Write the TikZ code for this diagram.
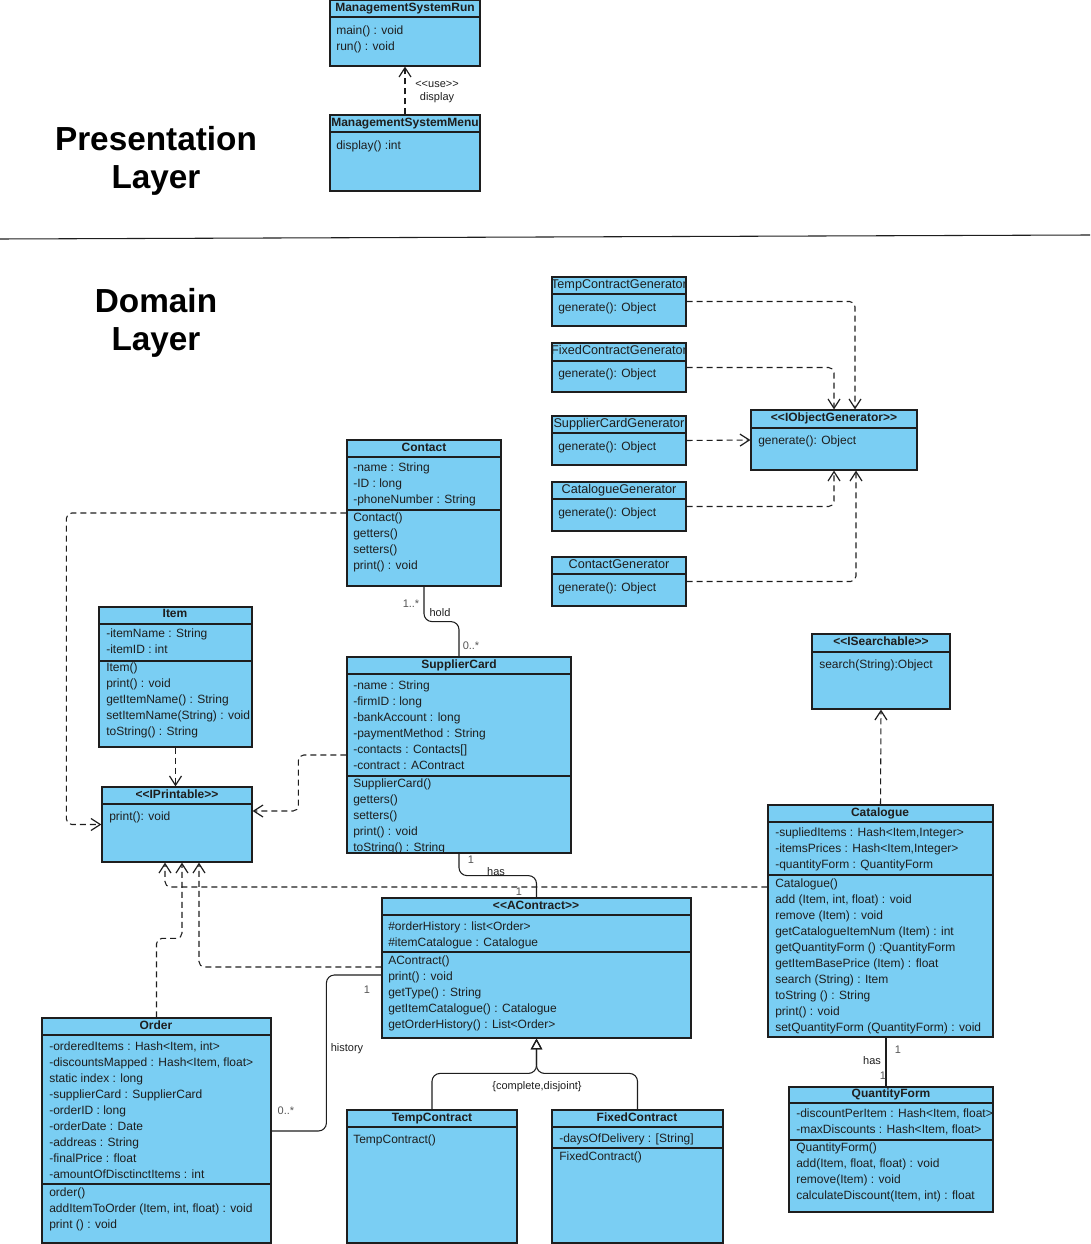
\documentclass[tikz,border=0pt]{standalone}
\usepackage{fontspec}
\setmainfont{Liberation Sans}[Ligatures=TeXOff]
\usetikzlibrary{arrows.meta,fit}

\definecolor{umlblue}{RGB}{122,206,243}
\definecolor{inkgrey}{RGB}{30,30,30}
\definecolor{multgrey}{RGB}{85,85,85}

\tikzset{
  umlbox/.style={draw=inkgrey, fill=umlblue, line width=0.9pt, inner sep=0pt},
  umltitle/.style={font=\fontsize{9}{11}\selectfont\bfseries, text=inkgrey, inner sep=0pt, text height=6.5pt, text depth=1.5pt},
  gentitle/.style={font=\fontsize{9.5}{11}\selectfont, text=inkgrey, inner sep=0pt, text height=6.8pt, text depth=1.6pt},
  umlrow/.style={anchor=west, font=\fontsize{9}{11}\selectfont, text=inkgrey, inner sep=0pt, text height=6.5pt, text depth=1.8pt},
  divider/.style={draw=inkgrey, line width=0.9pt},
  depend/.style={draw=inkgrey, line width=0.8pt, dash pattern=on 4.5pt off 3pt, rounded corners=4pt, -{Straight Barb[length=7pt,width=9pt,line width=0.9pt]}},
  assoc/.style={draw=inkgrey, line width=0.8pt, rounded corners=6pt},
  inherit/.style={draw=inkgrey, line width=0.8pt, rounded corners=6pt, -{Triangle[open,length=8pt,width=8.5pt,line width=0.9pt]}},
  conlabel/.style={font=\fontsize{8.25}{10}\selectfont, text=inkgrey, inner sep=0pt},
  multlabel/.style={conlabel, text=multgrey},
  layertitle/.style={font=\fontsize{25}{28.5}\selectfont\bfseries, align=center, text=black, inner sep=0pt}
}

\begin{document}
\begin{tikzpicture}[x=0.75pt, y=-0.75pt]
  \useasboundingbox (0,0) rectangle (1090,1244);

  % Layer titles and separator
  \node[layertitle] (presentation) at (156,161) {Presentation\\Layer};
  \node[layertitle] (domain) at (156,323) {Domain\\Layer};
  \draw[line width=0.8pt, inkgrey] (0,239) -- (1090,235);

  % ManagementSystemRun
  \node[umlbox, fit={(330,0) (480,66)}] (run) {};
  \draw[divider] (330,17) -- (480,17);
  \node[umltitle] (run-t) at (405,8) {ManagementSystemRun};
  \foreach \txt [count=\i from 0] in {main() : void, run() : void}
    \node[umlrow] (run-m\i) at (336,31+16*\i) {\txt};

  % ManagementSystemMenu
  \node[umlbox, fit={(330,115) (480,191)}] (menu) {};
  \draw[divider] (330,132) -- (480,132);
  \node[umltitle] (menu-t) at (405,123) {ManagementSystemMenu};
  \node[umlrow] (menu-m0) at (336,146) {display() :int};

  \draw[depend] (menu.north) -- (run.south);
  \node[conlabel] (use-l) at (437,84) {<<use>>};
  \node[conlabel] (display-l) at (437,98) {display};

  % Generators
  \node[umlbox, fit={(552,277) (686,326)}] (tempgen) {};
  \draw[divider] (552,294) -- (686,294);
  \node[gentitle] (tempgen-t) at (619,285) {TempContractGenerator};
  \node[umlrow] (tempgen-m0) at (558,308) {generate(): Object};

  \node[umlbox, fit={(552,343) (686,392)}] (fixedgen) {};
  \draw[divider] (552,361) -- (686,361);
  \node[gentitle] (fixedgen-t) at (619,351) {FixedContractGenerator};
  \node[umlrow] (fixedgen-m0) at (558,374) {generate(): Object};

  \node[umlbox, fit={(552,416) (686,465)}] (suppgen) {};
  \draw[divider] (552,433) -- (686,433);
  \node[gentitle] (suppgen-t) at (619,424) {SupplierCardGenerator};
  \node[umlrow] (suppgen-m0) at (558,447) {generate(): Object};

  \node[umlbox, fit={(552,482) (686,531)}] (catgen) {};
  \draw[divider] (552,499) -- (686,499);
  \node[gentitle] (catgen-t) at (619,490) {CatalogueGenerator};
  \node[umlrow] (catgen-m0) at (558,513) {generate(): Object};

  \node[umlbox, fit={(552,557) (686,606)}] (contgen) {};
  \draw[divider] (552,574) -- (686,574);
  \node[gentitle] (contgen-t) at (619,565) {ContactGenerator};
  \node[umlrow] (contgen-m0) at (558,588) {generate(): Object};

  % IObjectGenerator
  \node[umlbox, fit={(751,410) (917,470)}] (iobjgen) {};
  \draw[divider] (751,428) -- (917,428);
  \node[umltitle] (iobjgen-t) at (834,418) {<<IObjectGenerator>>};
  \node[umlrow] (iobjgen-m0) at (758,441) {generate(): Object};

  \draw[depend] (tempgen.east) -| ([xshift=15.75pt]iobjgen.north);
  \draw[depend] (fixedgen.east) -| (iobjgen.north);
  \draw[depend] (suppgen.east) -- (iobjgen.west);
  \draw[depend] (catgen.east) -| (iobjgen.south);
  \draw[depend] (contgen.east) -| ([xshift=16.5pt]iobjgen.south);

  % Contact
  \node[umlbox, fit={(347,440) (501,586)}] (contact) {};
  \draw[divider] (347,457) -- (501,457);
  \draw[divider] (347,510) -- (501,510);
  \node[umltitle] (contact-t) at (424,448) {Contact};
  \foreach \txt [count=\i from 0] in {-name : String, -ID : long, -phoneNumber : String}
    \node[umlrow] (contact-a\i) at (353,468+16*\i) {\txt};
  \foreach \txt [count=\i from 0] in {Contact(), getters(), setters(), print() : void}
    \node[umlrow] (contact-m\i) at (353,518+16*\i) {\txt};

  % Item
  \node[umlbox, fit={(99,607) (252,747)}] (item) {};
  \draw[divider] (99,624) -- (252,624);
  \draw[divider] (99,661) -- (252,661);
  \node[umltitle] (item-t) at (175,614) {Item};
  \foreach \txt [count=\i from 0] in {-itemName : String, -itemID : int}
    \node[umlrow] (item-a\i) at (106,634+16*\i) {\txt};
  \foreach \txt [count=\i from 0] in {Item(), print() : void, getItemName() : String, setItemName(String) : void, toString() : String}
    \node[umlrow] (item-m\i) at (106,668+16*\i) {\txt};

  % IPrintable
  \node[umlbox, fit={(102,787) (252,862)}] (iprintable) {};
  \draw[divider] (102,804) -- (252,804);
  \node[umltitle] (iprintable-t) at (177,795) {<<IPrintable>>};
  \node[umlrow] (iprintable-m0) at (109,817) {print(): void};

  % SupplierCard
  \node[umlbox, fit={(347,657) (571,853)}] (supplier) {};
  \draw[divider] (347,674) -- (571,674);
  \draw[divider] (347,776) -- (571,776);
  \node[umltitle] (supplier-t) at (459,665) {SupplierCard};
  \foreach \txt [count=\i from 0] in {-name : String, -firmID : long, -bankAccount : long, -paymentMethod : String, -contacts : Contacts[], -contract : AContract}
    \node[umlrow] (supplier-a\i) at (353,686+16*\i) {\txt};
  \foreach \txt [count=\i from 0] in {SupplierCard(), getters(), setters(), print() : void, toString() : String}
    \node[umlrow] (supplier-m\i) at (353,784+16*\i) {\txt};

  % AContract
  \node[umlbox, fit={(382,898) (691,1038)}] (acontract) {};
  \draw[divider] (382,915) -- (691,915);
  \draw[divider] (382,952) -- (691,952);
  \node[umltitle] (acontract-t) at (536,906) {<<AContract>>};
  \foreach \txt [count=\i from 0] in {\#orderHistory : list<Order>, \#itemCatalogue : Catalogue}
    \node[umlrow] (acontract-a\i) at (388,927+16*\i) {\txt};
  \foreach \txt [count=\i from 0] in {AContract(), print() : void, getType() : String, getItemCatalogue() : Catalogue, getOrderHistory() : List<Order>}
    \node[umlrow] (acontract-m\i) at (388,961+16*\i) {\txt};

  % Order
  \node[umlbox, fit={(42,1018) (271,1243)}] (order) {};
  \draw[divider] (42,1035) -- (271,1035);
  \draw[divider] (42,1184) -- (271,1184);
  \node[umltitle] (order-t) at (156,1026) {Order};
  \foreach \txt [count=\i from 0] in {{-orderedItems : Hash<Item, int>}, {-discountsMapped : Hash<Item, float>}, static index : long, -supplierCard : SupplierCard, -orderID : long, -orderDate : Date, -addreas : String, -finalPrice : float, -amountOfDisctinctItems : int}
    \node[umlrow] (order-a\i) at (49,1047+16*\i) {\txt};
  \foreach \txt [count=\i from 0] in {order(), {addItemToOrder (Item, int, float) : void}, print () : void}
    \node[umlrow] (order-m\i) at (49,1193+16*\i) {\txt};

  % TempContract and FixedContract
  \node[umlbox, fit={(347,1110) (517,1243)}] (tempc) {};
  \draw[divider] (347,1127) -- (517,1127);
  \node[umltitle] (tempc-t) at (432,1118) {TempContract};
  \node[umlrow] (tempc-m0) at (353,1140) {TempContract()};

  \node[umlbox, fit={(552,1110) (723,1243)}] (fixedc) {};
  \draw[divider] (552,1127) -- (723,1127);
  \draw[divider] (552,1148) -- (723,1148);
  \node[umltitle] (fixedc-t) at (637,1118) {FixedContract};
  \node[umlrow] (fixedc-a0) at (559,1139) {-daysOfDelivery : [String]};
  \node[umlrow] (fixedc-m0) at (559,1157) {FixedContract()};

  % ISearchable
  \node[umlbox, fit={(812,634) (950,709)}] (isearch) {};
  \draw[divider] (812,652) -- (950,652);
  \node[umltitle] (isearch-t) at (881,642) {<<ISearchable>>};
  \node[umlrow] (isearch-m0) at (819,665) {search(String):Object};

  % Catalogue
  \node[umlbox, fit={(768,805) (993,1037)}] (catalogue) {};
  \draw[divider] (768,822) -- (993,822);
  \draw[divider] (768,875) -- (993,875);
  \node[umltitle] (catalogue-t) at (880,813) {Catalogue};
  \foreach \txt [count=\i from 0] in {{-supliedItems : Hash<Item,Integer>}, {-itemsPrices : Hash<Item,Integer>}, -quantityForm : QuantityForm}
    \node[umlrow] (catalogue-a\i) at (775,833+16*\i) {\txt};
  \foreach \txt [count=\i from 0] in {Catalogue(), {add (Item, int, float) : void}, remove (Item) : void, getCatalogueItemNum (Item) : int, getQuantityForm () :QuantityForm, getItemBasePrice (Item) : float, search (String) : Item, toString () : String, print() : void, setQuantityForm (QuantityForm) : void}
    \node[umlrow] (catalogue-m\i) at (775,884+16*\i) {\txt};

  % QuantityForm
  \node[umlbox, fit={(789,1087) (993,1212)}] (quantity) {};
  \draw[divider] (789,1103) -- (993,1103);
  \draw[divider] (789,1140) -- (993,1140);
  \node[umltitle] (quantity-t) at (891,1094) {QuantityForm};
  \foreach \txt [count=\i from 0] in {{-discountPerItem : Hash<Item, float>}, {-maxDiscounts : Hash<Item, float>}}
    \node[umlrow] (quantity-a\i) at (796,1114+16*\i) {\txt};
  \foreach \txt [count=\i from 0] in {QuantityForm(), {add(Item, float, float) : void}, remove(Item) : void, {calculateDiscount(Item, int) : float}}
    \node[umlrow] (quantity-m\i) at (796,1148+16*\i) {\txt};

  % Dependencies towards IPrintable and ISearchable
  \draw[depend] (contact.west) -- ++(-280,0) |- (iprintable.west);
  \draw[depend] (item.south) -- (item.south |- iprintable.north);
  \draw[depend] (supplier.west) -- ++(-48,0) |- (iprintable.east |- 0,811);
  \draw[depend] (catalogue.west |- 0,887) -| ([xshift=-9pt]iprintable.south);
  \draw[depend] (order.north) -- ++(0,-79) -| ([xshift=3.75pt]iprintable.south);
  \draw[depend] (acontract.west |- 0,967) -| ([xshift=16.5pt]iprintable.south);
  \draw[depend] (catalogue.north) -- (isearch.south);

  % Associations
  \draw[assoc] (contact.south) -- ++(0,35) -| (supplier.north);
  \node[multlabel] (hold-m1) at (411,604) {1..*};
  \node[conlabel] (hold-l) at (440,613) {hold};
  \node[multlabel] (hold-m2) at (471,646) {0..*};

  \draw[assoc] (supplier.south) -- ++(0,22) -| (acontract.north);
  \node[multlabel] (has-m1) at (471,860) {1};
  \node[conlabel] (has-l) at (496,872) {has};
  \node[multlabel] (has-m2) at (519,892) {1};

  \draw[assoc] (acontract.west |- 0,975) -- ++(-55,0) |- (order.east |- 0,1131);
  \node[multlabel] (hist-m1) at (367,990) {1};
  \node[conlabel] (hist-l) at (347,1049) {history};
  \node[multlabel] (hist-m2) at (286,1111) {0..*};

  \draw[assoc] (catalogue.south -| 886,0) -- (quantity.north -| 886,0);
  \node[multlabel] (qf-m1) at (898,1050) {1};
  \node[conlabel] (qf-l) at (872,1061) {has};
  \node[multlabel] (qf-m2) at (883,1076) {1};

  % Generalization of AContract
  \draw[inherit] (tempc.north) -- ++(0,-36) -| (acontract.south);
  \draw[inherit] (fixedc.north) -- ++(0,-36) -| (acontract.south);
  \node[conlabel] (gen-l) at (537,1087) {\{complete,disjoint\}};

\end{tikzpicture}
\end{document}
